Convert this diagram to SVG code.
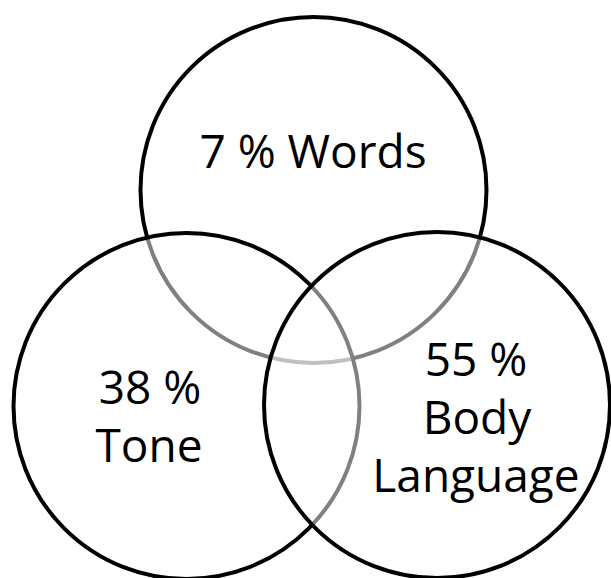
<svg xmlns="http://www.w3.org/2000/svg" width="611" height="578" viewBox="0 0 611 578">
  <style>
    .c { fill: #ffffff; fill-opacity: 0.5; stroke: #000000; stroke-width: 4; }
    .t { font-family: "Open Sans", "Noto Sans", "Liberation Sans", sans-serif; font-size: 46px; fill: #000000; text-anchor: middle; }
  </style>
  <rect width="611" height="578" fill="#ffffff"/>
  <g id="words">
    <circle class="c" cx="313.5" cy="190" r="173"/>
    <text class="t" x="313" y="168">7 % Words</text>
  </g>
  <g id="tone">
    <circle class="c" cx="186.5" cy="406" r="173"/>
    <text class="t" x="150" y="404">38 %</text>
    <text class="t" x="149" y="461.5">Tone</text>
  </g>
  <g id="body-language">
    <circle class="c" cx="437" cy="405" r="173"/>
    <text class="t" x="476" y="375.5">55 %</text>
    <text class="t" x="477" y="433.5">Body</text>
    <text class="t" x="476" y="491.5">Language</text>
  </g>
</svg>
